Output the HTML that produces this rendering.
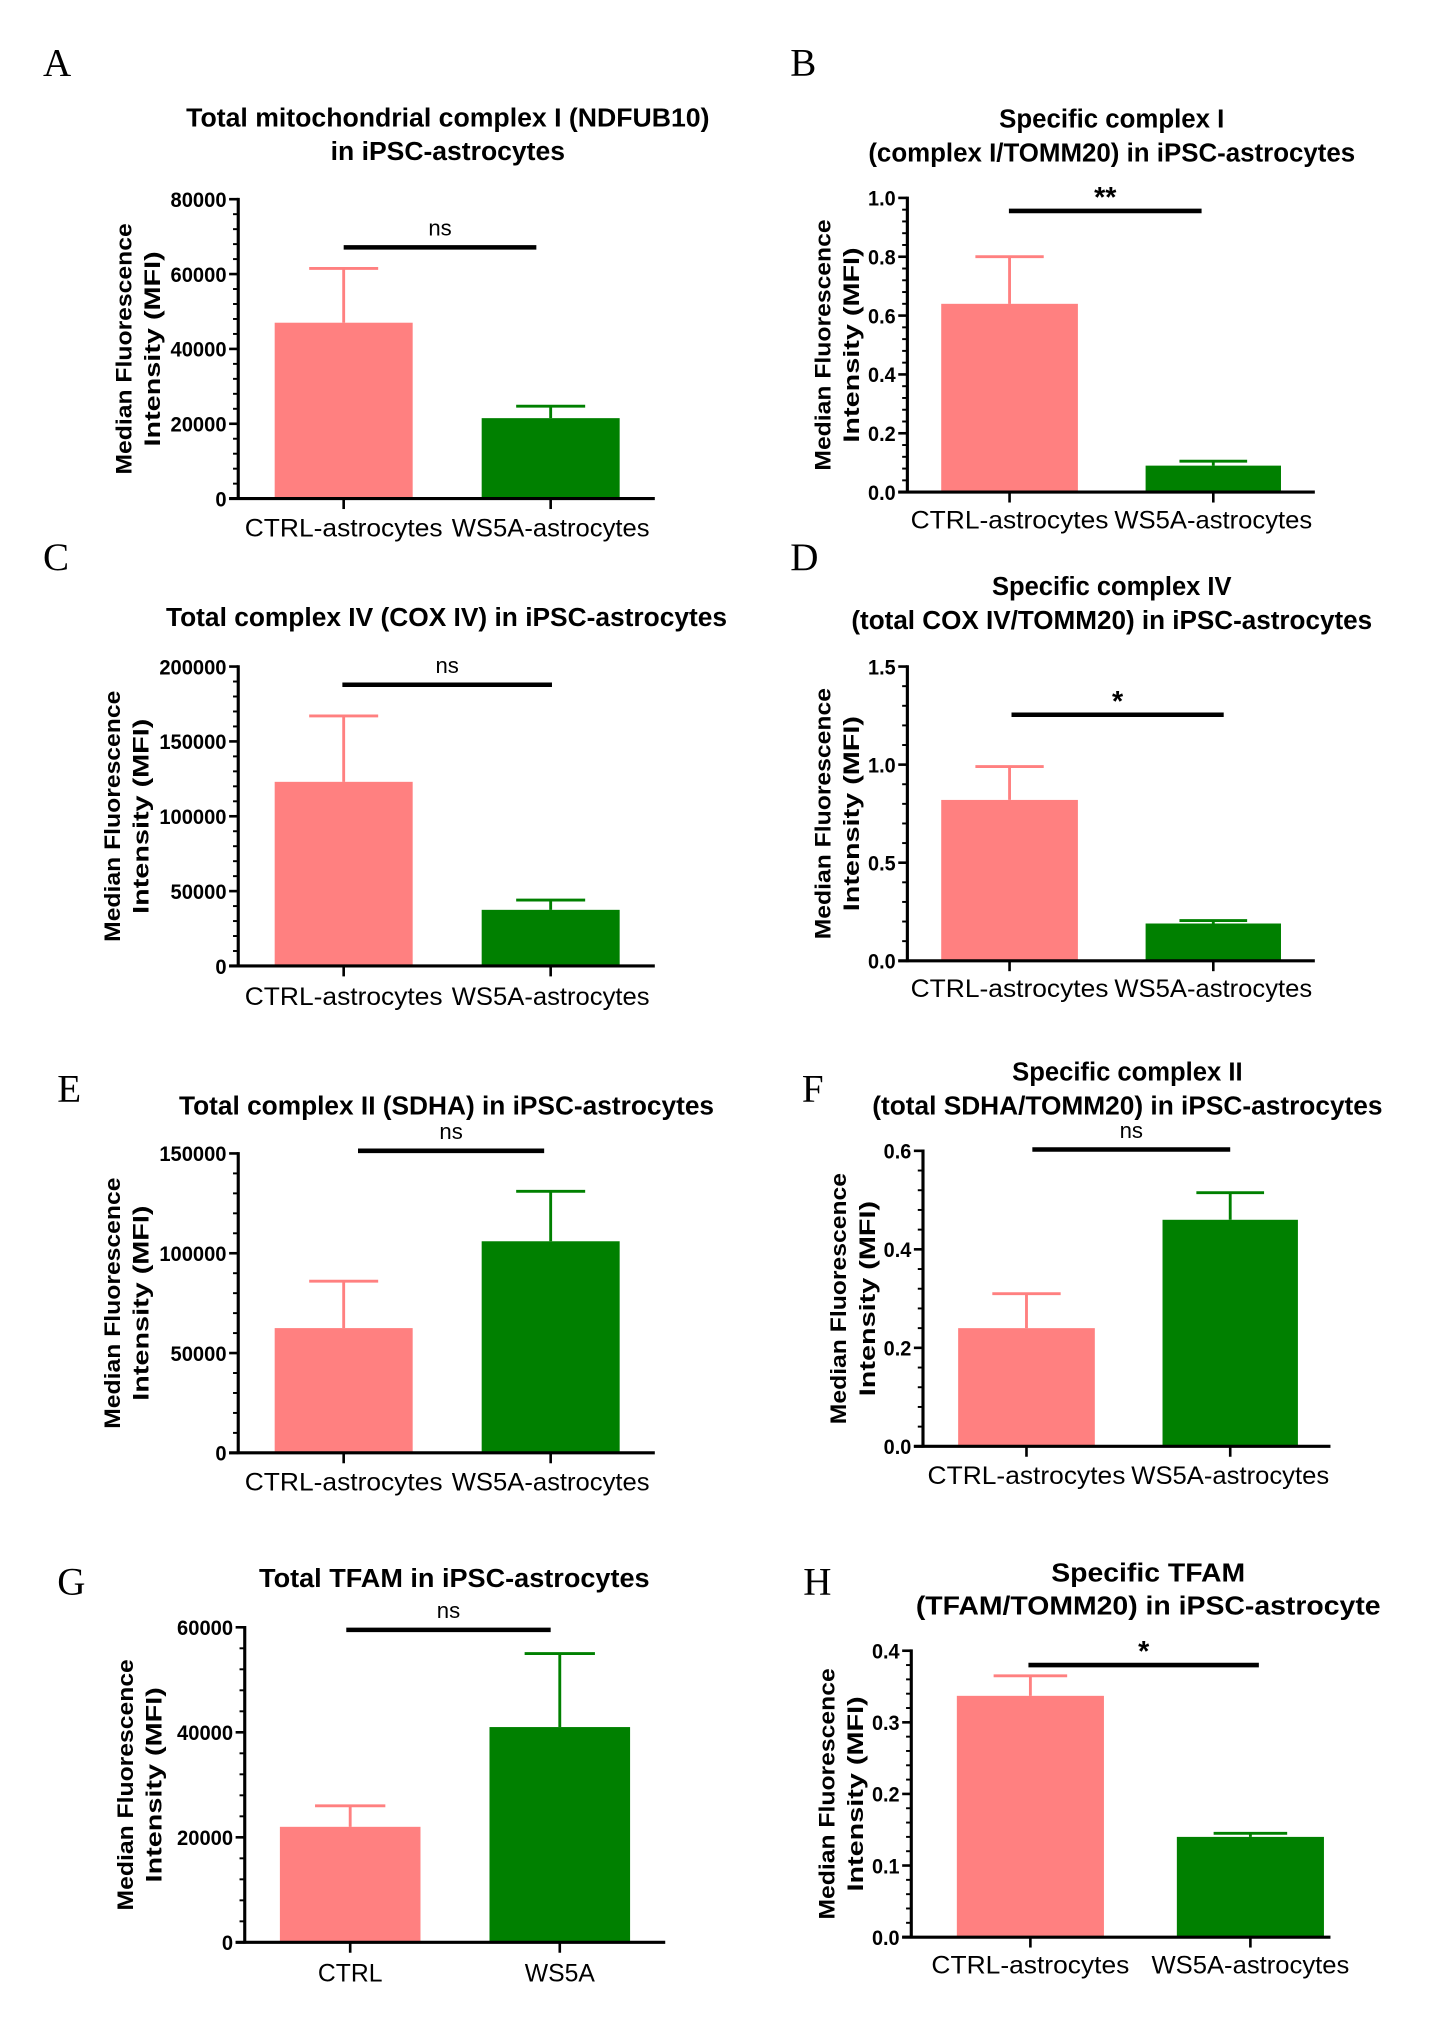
<!DOCTYPE html>
<html><head><meta charset="utf-8"><style>
html,body{margin:0;padding:0;background:#fff}
svg{display:block}
text{font-family:"Liberation Sans",sans-serif}
text.serif{font-family:"Liberation Serif",serif}
</style></head><body>
<svg id="fig" width="1432" height="2040" viewBox="0 0 1100 1567" xmlns="http://www.w3.org/2000/svg"></svg>
<script>
// ---- data ----
const catsA=["CTRL-astrocytes","WS5A-astrocytes"], valsA=[47000,21500], errsA=[61500,24700], ticksA=["0","20000","40000","60000","80000"], sigA="ns";
const catsB=["CTRL-astrocytes","WS5A-astrocytes"], valsB=[0.64,0.09], errsB=[0.80,0.105], ticksB=["0.0","0.2","0.4","0.6","0.8","1.0"], sigB="**";
const catsC=["CTRL-astrocytes","WS5A-astrocytes"], valsC=[123000,37500], errsC=[167000,44000], ticksC=["0","50000","100000","150000","200000"], sigC="ns";
const catsD=["CTRL-astrocytes","WS5A-astrocytes"], valsD=[0.82,0.19], errsD=[0.99,0.205], ticksD=["0.0","0.5","1.0","1.5"], sigD="*";
const catsE=["CTRL-astrocytes","WS5A-astrocytes"], valsE=[62500,106000], errsE=[86000,131000], ticksE=["0","50000","100000","150000"], sigE="ns";
const catsF=["CTRL-astrocytes","WS5A-astrocytes"], valsF=[0.24,0.46], errsF=[0.31,0.515], ticksF=["0.0","0.2","0.4","0.6"], sigF="ns";
const catsG=["CTRL","WS5A"], valsG=[22000,41000], errsG=[26000,55000], ticksG=["0","20000","40000","60000"], sigG="ns";
const catsH=["CTRL-astrocytes","WS5A-astrocytes"], valsH=[0.337,0.14], errsH=[0.365,0.145], ticksH=["0.0","0.1","0.2","0.3","0.4"], sigH="*";

// ---- layout ----
const panels=[
 {id:"a",L:"A",lx:33,ly:58,cats:catsA,vals:valsA,errs:errsA,ticks:ticksA,sig:sigA,ax:183,top:153,bot:383,xe:503,bars:[[211,317],[370,476]],sy:190,sx:[264,412],title:["Total mitochondrial complex I (NDFUB10)","in iPSC-astrocytes"],tw:[402,180],ty:[97,123],tx:344,ylx:[101,123],lab:412},
 {id:"b",L:"B",lx:607,ly:58,cats:catsB,vals:valsB,errs:errsB,ticks:ticksB,sig:sigB,ax:697,top:152,bot:378,xe:1010,bars:[[723,828],[880,984]],sy:162,sx:[775,923],title:["Specific complex I","(complex I/TOMM20) in iPSC-astrocytes"],tw:[173,374],ty:[98,124],tx:854,ylx:[638,660],lab:406},
 {id:"c",L:"C",lx:33,ly:438,cats:catsC,vals:valsC,errs:errsC,ticks:ticksC,sig:sigC,ax:183,top:512,bot:742,xe:503,bars:[[211,317],[370,476]],sy:526,sx:[263,424],title:["Total complex IV (COX IV) in iPSC-astrocytes"],tw:[431],ty:[481],tx:343,ylx:[92,114],lab:772},
 {id:"d",L:"D",lx:607,ly:438,cats:catsD,vals:valsD,errs:errsD,ticks:ticksD,sig:sigD,ax:697,top:512,bot:738,xe:1010,bars:[[723,828],[880,984]],sy:549,sx:[777,940],title:["Specific complex IV","(total COX IV/TOMM20) in iPSC-astrocytes"],tw:[184,400],ty:[457,483],tx:854,ylx:[638,660],lab:766},
 {id:"e",L:"E",lx:44,ly:846,cats:catsE,vals:valsE,errs:errsE,ticks:ticksE,sig:sigE,ax:183,top:886,bot:1116,xe:503,bars:[[211,317],[370,476]],sy:884,sx:[275,418],title:["Total complex II (SDHA) in iPSC-astrocytes"],tw:[411],ty:[856],tx:343,ylx:[92,114],lab:1145},
 {id:"f",L:"F",lx:616,ly:846,cats:catsF,vals:valsF,errs:errsF,ticks:ticksF,sig:sigF,ax:709,top:884,bot:1111,xe:1022,bars:[[736,841],[893,997]],sy:883,sx:[793,945],title:["Specific complex II","(total SDHA/TOMM20) in iPSC-astrocytes"],tw:[177,392],ty:[830,856],tx:866,ylx:[650,672],lab:1140},
 {id:"g",L:"G",lx:44,ly:1225,cats:catsG,vals:valsG,errs:errsG,ticks:ticksG,sig:sigG,ax:188,top:1250,bot:1492,xe:511,bars:[[215,323],[376,484]],sy:1252,sx:[266,423],title:["Total TFAM in iPSC-astrocytes"],tw:[300],ty:[1219],tx:349,ylx:[102,124],lab:1522},
 {id:"h",L:"H",lx:617,ly:1225,cats:catsH,vals:valsH,errs:errsH,ticks:ticksH,sig:sigH,ax:700,top:1268,bot:1488,xe:1022,bars:[[735,848],[904,1017]],sy:1279,sx:[790,967],title:["Specific TFAM","(TFAM/TOMM20) in iPSC-astrocyte"],tw:[149,357],ty:[1215,1240],tx:882,ylx:[641,663],lab:1516}
];
const NS="http://www.w3.org/2000/svg", svg=document.getElementById("fig");
const colors=["#FF8080","#008000"];
function mk(tag,at,parent,txt){const e=document.createElementNS(NS,tag);for(const k in at)e.setAttribute(k,at[k]);if(txt!==undefined)e.textContent=txt;parent.appendChild(e);return e;}
function tlen(s){let w=0;for(const c of s)w+=(c==="."?4:8.6);return w;}
panels.forEach(p=>{
  const g=mk("g",{},svg);
  
  
  const tv=p.ticks.map(Number), ymax=tv[tv.length-1];
  const y=v=>p.bot-(v/ymax)*(p.bot-p.top);
  const lt=mk("text",{x:p.lx,y:p.ly,class:"serif","font-size":30},g,p.L);
  
  
  p.title.forEach((t,i)=>{const e=mk("text",{x:p.tx,y:p.ty[i],"text-anchor":"middle","font-weight":"bold","font-size":20,textLength:p.tw[i],lengthAdjust:"spacingAndGlyphs"},g,t);
    
    });
  const yl=mk("text",{transform:`translate(${p.ylx[0]},${(p.top+p.bot)/2}) rotate(-90)`,"text-anchor":"middle","font-weight":"bold","font-size":17},g);
  
  
  mk("tspan",{x:0,y:0,textLength:193,lengthAdjust:"spacingAndGlyphs"},yl,"Median Fluorescence");
  mk("tspan",{x:0,y:p.ylx[1]-p.ylx[0],textLength:150,lengthAdjust:"spacingAndGlyphs"},yl,"Intensity (MFI)");
  p.vals.forEach((v,i)=>{
    const [x0,x1]=p.bars[i], cx=(x0+x1)/2, ev=p.errs[i], hw=(x1-x0)/4;
    const r=mk("rect",{x:x0,y:y(v),width:x1-x0,height:p.bot-y(v),fill:colors[i]},g);
    
    
    const eb=mk("path",{d:`M${cx},${y(v)}V${y(ev)}M${cx-hw},${y(ev)}H${cx+hw}`,stroke:colors[i],"stroke-width":2.2,fill:"none"},g);
    
    
    const tk=mk("line",{x1:cx,x2:cx,y1:p.bot,y2:p.bot+8,stroke:"#000","stroke-width":2},g);
    
    
    const cl=mk("text",{x:cx,y:p.lab,"text-anchor":"middle","font-size":19},g,p.cats[i]);
    if(p.cats[i].length>6){cl.setAttribute("textLength",152);cl.setAttribute("lengthAdjust","spacingAndGlyphs");}
    
    
  });
  const ya=mk("line",{x1:p.ax,x2:p.ax,y1:p.top-1,y2:p.bot+1,stroke:"#000","stroke-width":2.4},g);
  
  
  const xa=mk("line",{x1:p.ax-7,x2:p.xe,y1:p.bot,y2:p.bot,stroke:"#000","stroke-width":2.4},g);
  
  
  tv.forEach((v,i)=>{
    mk("line",{x1:p.ax-7,x2:p.ax,y1:y(v),y2:y(v),stroke:"#000","stroke-width":2},g);
    const tl=mk("text",{x:p.ax-9,y:y(v)+6,"text-anchor":"end","font-weight":"bold","font-size":16,textLength:tlen(p.ticks[i]),lengthAdjust:"spacingAndGlyphs"},g,p.ticks[i]);
    
    
    if(i<tv.length-1){for(let k=1;k<5;k++){const mv=v+(tv[i+1]-v)*k/5;mk("line",{x1:p.ax-4,x2:p.ax,y1:y(mv),y2:y(mv),stroke:"#000","stroke-width":1.5},g);}}
  });
  const sb=mk("line",{x1:p.sx[0],x2:p.sx[1],y1:p.sy,y2:p.sy,stroke:"#000","stroke-width":3.5},g);
  
  
  const st=mk("text",{x:(p.sx[0]+p.sx[1])/2,y:p.sig==="ns"?p.sy-9:p.sy-3,"text-anchor":"middle","font-size":p.sig==="ns"?17:22,"font-weight":p.sig==="ns"?"normal":"bold"},g,p.sig);
  
  
});
</script>
</body></html>
